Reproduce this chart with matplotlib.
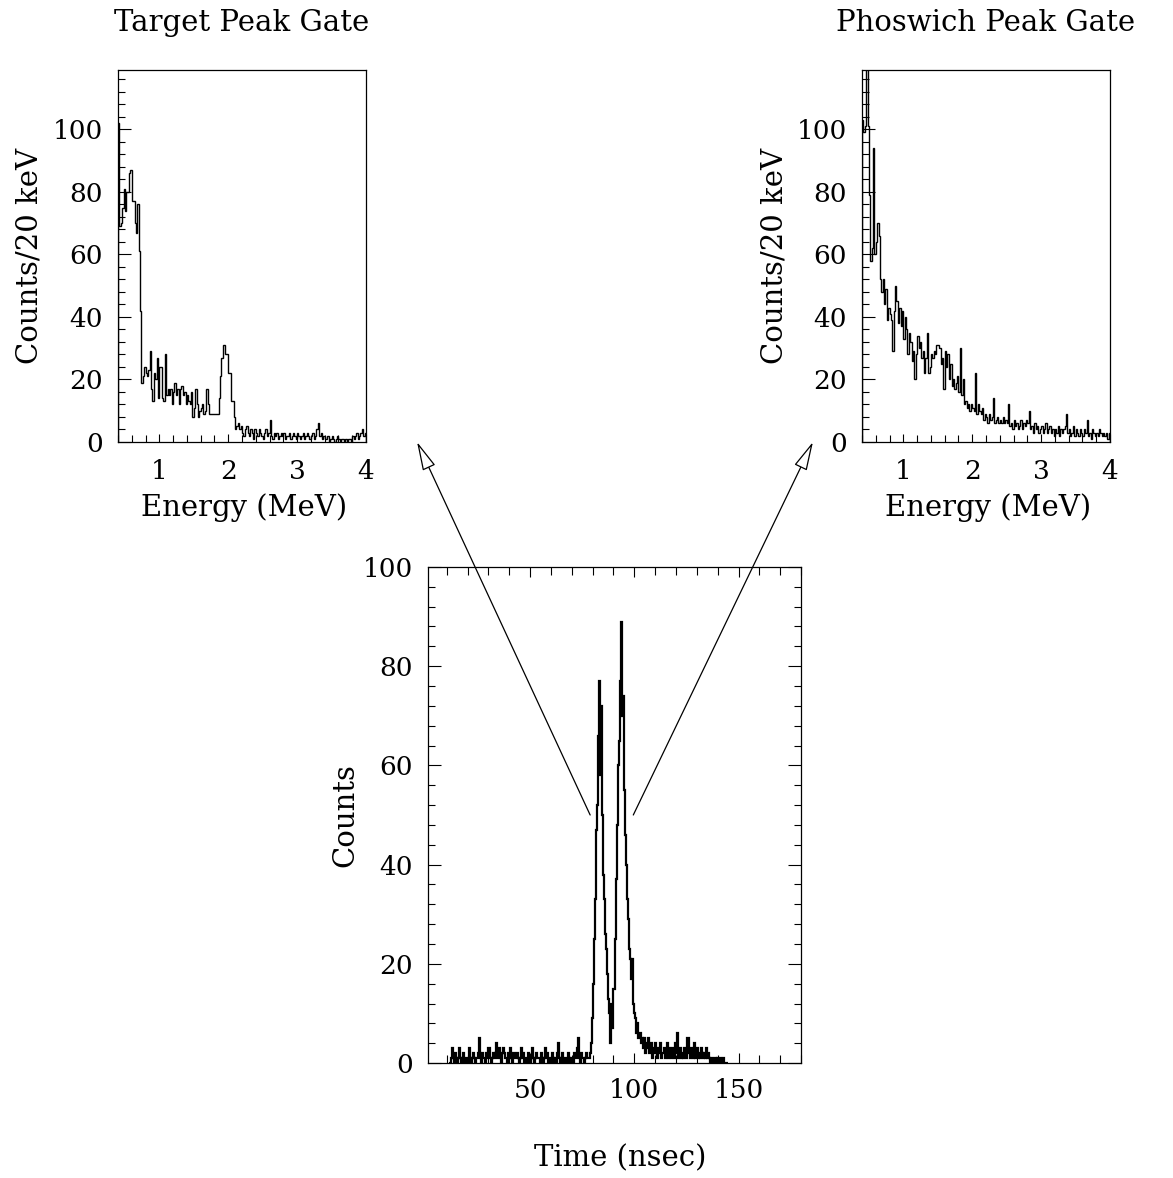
import matplotlib
matplotlib.use("Agg")
import matplotlib.pyplot as plt
import numpy as np
from matplotlib.patches import ConnectionPatch
from matplotlib.ticker import MultipleLocator

plt.rcParams["font.family"] = "DejaVu Serif"

# ---------------------------------------------------------------------------
# Data
# ---------------------------------------------------------------------------
# energy spectra: 20 keV bins starting at 0.40 MeV
energy_start = 0.40
energy_bin = 0.02

target_counts = [
    102, 69, 70, 75, 81, 74, 80, 80, 86, 87, 77, 77, 70, 67, 76, 61, 42, 19,
    21, 24, 22, 21, 23, 29, 17, 13, 22, 20, 27, 14, 24, 24, 14, 13, 28, 15,
    17, 15, 17, 12, 16, 19, 15, 17, 12, 17, 18, 15, 16, 12,
    15, 13, 12, 16, 8, 11, 17, 12, 8, 10, 11, 12, 9, 10, 17, 12, 9, 9, 9, 9,
    9, 9, 9, 14, 21, 27, 31, 31, 28, 28, 22, 22, 13, 13, 8, 4,
    5, 6, 4, 5, 3, 2, 4, 5, 3, 2, 4, 3, 1, 4,
    3, 2, 4, 3, 2, 1, 3, 4, 2, 3, 7, 2, 1, 3, 2, 3, 1, 2, 3, 2,
    3, 1, 2, 2, 3, 1, 2, 3, 2, 1, 3, 2, 1, 2, 3, 1, 2, 3, 2, 1,
    2, 3, 1, 2, 4, 6, 2, 3, 1, 2, 1, 1, 2, 0, 1, 2, 1, 0, 1, 2,
    1, 0, 1, 1, 0, 1, 0, 1, 1, 0, 2, 1, 2, 3, 1, 2, 3, 4, 2, 3,
]

phoswich_counts = [
    103, 99, 101, 130, 101, 79, 58, 62, 94, 60,
    64, 70, 66, 52, 48, 52, 44, 49, 39, 43,
    41, 39, 29, 42, 50, 45, 38, 43, 37, 42,
    33, 40, 36, 28, 35, 32, 26, 29, 20, 28,
    34, 30, 32, 27, 29, 22, 27, 35, 22, 24,
    28, 27, 29, 28, 31, 31, 30, 25, 27, 17,
    29, 24, 28, 20, 25, 18, 20, 17, 19, 21,
    16, 30, 15, 20, 12, 13, 11, 12, 10, 12,
    11, 10, 22, 9, 12, 10, 9, 11, 7, 9,
    8, 6, 9, 7, 8, 14, 6, 7, 8, 6,
    7, 6, 8, 6, 7, 6, 12, 5, 6, 4,
    7, 5, 6, 4, 5, 7, 4, 6, 5, 7,
    6, 10, 4, 5, 3, 6, 4, 5, 3, 4,
    5, 3, 4, 6, 3, 4, 5, 3, 4, 2,
    4, 3, 5, 2, 4, 3, 4, 5, 9, 3,
    4, 2, 3, 5, 2, 4, 3, 2, 4, 3,
    2, 4, 3, 7, 2, 3, 1, 4, 3, 2,
    3, 2, 4, 3, 2, 3, 2, 3, 1, 3,
]

# time spectrum: 0.5 ns bins starting at 11 ns
time_start = 11.0
time_bin = 0.5

time_counts = [
    # 11 - 78 ns, random background
    0, 0, 1, 3, 1, 0, 2, 1, 0, 1, 3, 1, 0, 1, 2, 0, 1, 1, 0, 3,
    1, 0, 1, 2, 1, 0, 1, 1, 2, 5, 1, 0, 2, 1, 1, 0, 2, 1, 3, 1,
    0, 1, 2, 1, 2, 4, 1, 2, 3, 1, 0, 2, 3, 2, 1, 1, 0, 2, 1, 3,
    1, 0, 2, 1, 1, 2, 1, 0, 1, 3, 1, 2, 0, 1, 1, 0, 2, 1, 0, 1,
    3, 1, 0, 1, 2, 1, 1, 0, 2, 1, 0, 1, 3, 1, 2, 0, 1, 1, 0, 2,
    1, 0, 1, 0, 2, 4, 1, 0, 1, 2, 0, 1, 1, 0, 2, 1, 0, 1, 1, 0,
    2, 1, 1, 3, 5, 1, 0, 2, 1, 1, 0, 1, 2, 1,
    # 78 - 104 ns, target and phoswich peaks
    1, 2, 4, 9, 16, 25, 33, 47, 52, 66, 77, 58, 72, 50, 38, 33, 26, 23,
    18, 13, 10, 4, 12, 7, 15, 25, 37, 48, 60, 65, 77, 89, 70, 74, 55, 46,
    40, 33, 29, 23, 21, 17, 21, 12, 10, 9, 6, 8, 5, 6, 4, 5,
    # 104 - 145 ns, tail
    3, 5, 2, 4, 3, 5, 2, 3, 4, 1, 3, 2, 4, 2, 1, 3, 2, 4, 1, 2,
    3, 1, 2, 4, 1, 3, 2, 1, 3, 2, 1, 4, 2, 6, 1, 2, 3, 1, 2, 1,
    3, 2, 1, 5, 2, 1, 3, 2, 1, 4, 1, 2, 3, 1, 2, 1, 3, 2, 1, 2,
    1, 3, 1, 2, 1, 0, 1, 0, 1, 1, 0, 1, 0, 1, 1, 0, 0, 1, 0, 0,
    0, 0,
]

# where the two arrows start on the timing spectrum (ns, counts)
gate_marks = [(78.8, 50.0), (99.5, 50.0)]


def edges(start, width, n):
    return start + width * np.arange(n + 1)


# ---------------------------------------------------------------------------
# Axes styling
# ---------------------------------------------------------------------------
def style_energy(ax, title):
    ax.set_xlim(0.4, 4.0)
    ax.set_ylim(0, 119)
    ax.xaxis.set_major_locator(MultipleLocator(1))
    ax.xaxis.set_minor_locator(MultipleLocator(0.2))
    ax.yaxis.set_major_locator(MultipleLocator(20))
    ax.yaxis.set_minor_locator(MultipleLocator(4))
    ax.tick_params(which="both", direction="in", top=False, right=False,
                   labelsize=19, width=0.8)
    ax.tick_params(axis="y", which="major", length=9.5, pad=11)
    ax.tick_params(axis="y", which="minor", length=5)
    ax.tick_params(axis="x", which="major", length=6, pad=12)
    ax.tick_params(axis="x", which="minor", length=5)
    ax.set_xlabel("Energy (MeV)", fontsize=21, va="center")
    ax.xaxis.set_label_coords(0.51, -0.177)
    ax.set_ylabel("Counts/20 keV", fontsize=21, va="center")
    ax.yaxis.set_label_coords(-0.355, 0.5)
    ax.set_title(title, fontsize=21, pad=28)
    for s in ax.spines.values():
        s.set_linewidth(0.9)


fig = plt.figure(figsize=(11.73, 11.78), dpi=100)

ax_tl = fig.add_axes([0.1006, 0.6248, 0.2114, 0.3158])
ax_tr = fig.add_axes([0.7349, 0.6248, 0.2114, 0.3158])
ax_b = fig.add_axes([0.3649, 0.0976, 0.3180, 0.4211])

ax_tl.stairs(target_counts,
             edges(energy_start, energy_bin, len(target_counts)),
             color="black", lw=1.0)
style_energy(ax_tl, "Target Peak Gate")

ax_tr.stairs(phoswich_counts,
             edges(energy_start, energy_bin, len(phoswich_counts)),
             color="black", lw=1.0)
style_energy(ax_tr, "Phoswich Peak Gate")

# timing spectrum (fine bins drawn heavy, as in the original plot)
ax_b.stairs(time_counts, edges(time_start, time_bin, len(time_counts)),
            color="black", lw=1.6)
ax_b.set_xlim(1, 180)
ax_b.set_ylim(0, 100)
ax_b.xaxis.set_major_locator(MultipleLocator(50))
ax_b.xaxis.set_minor_locator(MultipleLocator(10))
ax_b.yaxis.set_major_locator(MultipleLocator(20))
ax_b.yaxis.set_minor_locator(MultipleLocator(4))
ax_b.tick_params(which="both", direction="in", top=True, right=True,
                 labelsize=19, width=0.8)
ax_b.tick_params(axis="y", which="major", length=9.5, pad=11)
ax_b.tick_params(axis="y", which="minor", length=5)
ax_b.tick_params(axis="x", which="major", length=7, pad=11)
ax_b.tick_params(axis="x", which="minor", length=5.5)
ax_b.set_xlabel("Time (nsec)", fontsize=21, va="center")
ax_b.xaxis.set_label_coords(0.515, -0.1915)
ax_b.set_ylabel("Counts", fontsize=21, va="center")
ax_b.yaxis.set_label_coords(-0.2225, 0.5)
for s in ax_b.spines.values():
    s.set_linewidth(0.9)

# arrows from the two timing peaks to the gated spectra
arrow_style = "-|>,head_length=1.8,head_width=0.43"
for (tx, ty), (ax_to, tip) in zip(gate_marks,
                                  [(ax_tl, (1.206, 0.0)),
                                   (ax_tr, (-0.198, 0.0))]):
    con = ConnectionPatch(xyA=(tx, ty), coordsA=ax_b.transData,
                          xyB=tip, coordsB=ax_to.transAxes,
                          arrowstyle=arrow_style, mutation_scale=10,
                          shrinkA=0, shrinkB=0, lw=0.9,
                          ec="black", fc="white")
    fig.add_artist(con)

fig.savefig("out.png", dpi=100)
